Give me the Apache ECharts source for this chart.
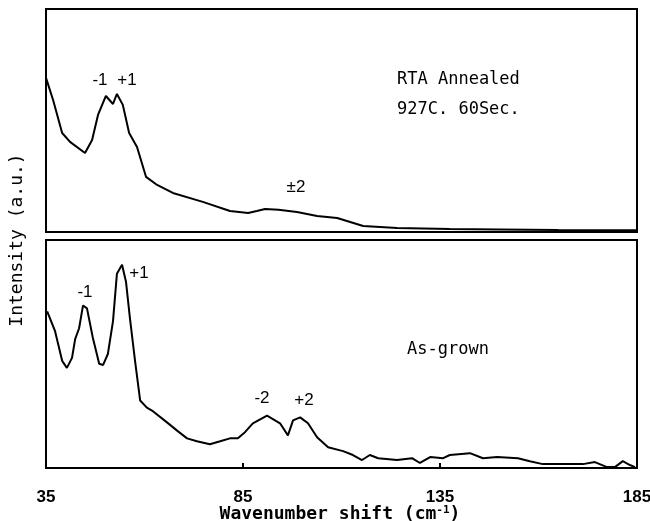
<!DOCTYPE html>
<html>
<head>
<meta charset="utf-8">
<script src="https://cdn.jsdelivr.net/npm/echarts@6/dist/echarts.min.js"></script>
<style>
  html, body { margin: 0; padding: 0; background: #fff; }
  #chart { width: 650px; height: 521px; }
</style>
</head>
<body>
<div id="chart"></div>
<script>
// x ticks (cm^-1)
const xTicks = [35, 85, 135, 185];

// RTA annealed spectrum (upper panel)
const annealedX = [35, 36.8, 39.1, 41.1, 44.9, 46.7, 48.2, 50.2, 52.0, 53.0, 54.5, 56.1, 58.1, 60.4, 63.2, 67.2, 74.8, 81.7, 86.3, 88.5, 90.6, 94.0, 98.7, 103.8, 108.9, 115.5, 124.1, 137.5, 150, 165, 185];
const annealedY = [69.1, 59.2, 44.4, 40.4, 35.4, 41.3, 52.5, 61.0, 57.4, 61.9, 57.0, 44.4, 38.1, 24.7, 21.1, 17.5, 13.5, 9.4, 8.5, 9.4, 10.3, 10.0, 9.0, 7.2, 6.3, 2.7, 1.8, 1.3, 1.1, 0.9, 0.8];

// As-grown spectrum (lower panel)
const grownX = [35.3, 37.3, 39.1, 40.3, 41.6, 42.4, 43.4, 44.4, 45.4, 46.9, 48.5, 49.5, 50.7, 52.0, 53.0, 54.3, 55.3, 56.3, 57.6, 58.9, 60.6, 61.9, 65.7, 68.2, 70.8, 73.3, 76.6, 79.2, 81.7, 83.7, 85.5, 87.5, 91.1, 94.4, 96.4, 97.7, 99.5, 101.5, 103.8, 106.6, 110.4, 112.9, 115.2, 117.2, 119.3, 124.1, 127.9, 129.9, 132.5, 135.8, 137.5, 142.6, 145.9, 149.5, 154.8, 157.8, 161.1, 166.2, 171.3, 174.3, 177.4, 179.4, 181.4, 183.2, 184.5];
const grownY = [68.7, 60.0, 47.0, 43.9, 48.3, 56.5, 61.3, 71.3, 70.0, 57.0, 45.7, 45.2, 50.0, 64.3, 85.2, 89.1, 81.7, 65.7, 47.0, 29.6, 26.5, 25.2, 20.0, 16.5, 13.0, 11.7, 10.4, 11.7, 13.0, 13.0, 15.7, 19.6, 23.0, 19.6, 14.3, 20.9, 22.2, 19.6, 13.5, 9.1, 7.4, 5.7, 3.5, 5.7, 4.3, 3.5, 4.3, 2.2, 4.8, 4.3, 5.7, 6.5, 4.3, 4.8, 4.3, 3.0, 1.7, 1.7, 1.7, 2.6, 0.4, 0.4, 3.0, 1.3, 0.4];

const zip = (xs, ys) => xs.map((x, i) => [x, ys[i]]);

const monoFont = '"DejaVu Sans Mono", "Liberation Mono", monospace';
const sansFont = '"Liberation Sans", "DejaVu Sans", sans-serif';

const chart = echarts.init(document.getElementById('chart'));

// small helper for the free text in the panels
const txt = (x, y, text, font, align) => ({
    type: 'text', x: x, y: y,
    style: { text: text, fill: '#000', font: font, textAlign: align || 'left', textVerticalAlign: 'middle' }
});

const option = {
    backgroundColor: '#fff',
    animation: false,
    grid: [
        { left: 46, right: 13, top: 9, height: 223, show: true, borderColor: '#000', borderWidth: 2, outerBoundsMode: 'none' },
        { left: 46, right: 13, top: 240, height: 228, show: true, borderColor: '#000', borderWidth: 2, outerBoundsMode: 'none' }
    ],
    xAxis: [
        {
            gridIndex: 0, type: 'value', min: xTicks[0], max: xTicks[xTicks.length - 1], interval: 50,
            axisLine: { show: false }, axisTick: { show: false }, axisLabel: { show: false }, splitLine: { show: false }
        },
        {
            gridIndex: 1, type: 'value', min: xTicks[0], max: xTicks[xTicks.length - 1], interval: 50,
            axisLine: { show: false },
            axisTick: { show: true, inside: true, length: 5, lineStyle: { color: '#000', width: 2 } },
            axisLabel: { color: '#000', fontSize: 17, fontWeight: 'bold', fontFamily: sansFont, margin: 21 },
            splitLine: { show: false }
        }
    ],
    yAxis: [
        {
            gridIndex: 0, type: 'value', min: 0, max: 100,
            axisLine: { show: false }, axisTick: { show: false }, axisLabel: { show: false }, splitLine: { show: false }
        },
        {
            gridIndex: 1, type: 'value', min: 0, max: 100,
            axisLine: { show: false }, axisTick: { show: false }, axisLabel: { show: false }, splitLine: { show: false }
        }
    ],
    series: [
        {
            name: 'RTA Annealed', type: 'line', xAxisIndex: 0, yAxisIndex: 0,
            data: zip(annealedX, annealedY), showSymbol: false,
            lineStyle: { color: '#000', width: 2 }
        },
        {
            name: 'As-grown', type: 'line', xAxisIndex: 1, yAxisIndex: 1,
            data: zip(grownX, grownY), showSymbol: false,
            lineStyle: { color: '#000', width: 2 }
        }
    ],
    graphic: [
        { type: 'text', x: 17, y: 240, rotation: Math.PI / 2, style: { text: 'Intensity (a.u.)', fill: '#000', font: '18px ' + monoFont, textAlign: 'center', textVerticalAlign: 'middle' } },
        {
            type: 'text', x: 340, y: 514,
            style: {
                text: 'Wavenumber shift (cm{sup|-1})', fill: '#000',
                fontSize: 18, fontWeight: 'bold', fontFamily: monoFont,
                align: 'center', verticalAlign: 'middle',
                rich: { sup: { fontSize: 11, fontWeight: 'bold', fontFamily: monoFont, padding: [0, 0, 7, 0] } }
            }
        },
        txt(397, 80, 'RTA Annealed', '17px ' + monoFont),
        txt(397, 110, '927C. 60Sec.', '17px ' + monoFont),
        txt(407, 350, 'As-grown', '17px ' + monoFont),
        txt(100, 80, '-1', '17px ' + sansFont, 'center'),
        txt(127, 80, '+1', '17px ' + sansFont, 'center'),
        txt(296, 187, '±2', '17px ' + sansFont, 'center'),
        txt(85, 292, '-1', '17px ' + sansFont, 'center'),
        txt(139, 273, '+1', '17px ' + sansFont, 'center'),
        txt(262, 398, '-2', '17px ' + sansFont, 'center'),
        txt(304, 400, '+2', '17px ' + sansFont, 'center')
    ]
};

chart.setOption(option);
</script>
</body>
</html>
